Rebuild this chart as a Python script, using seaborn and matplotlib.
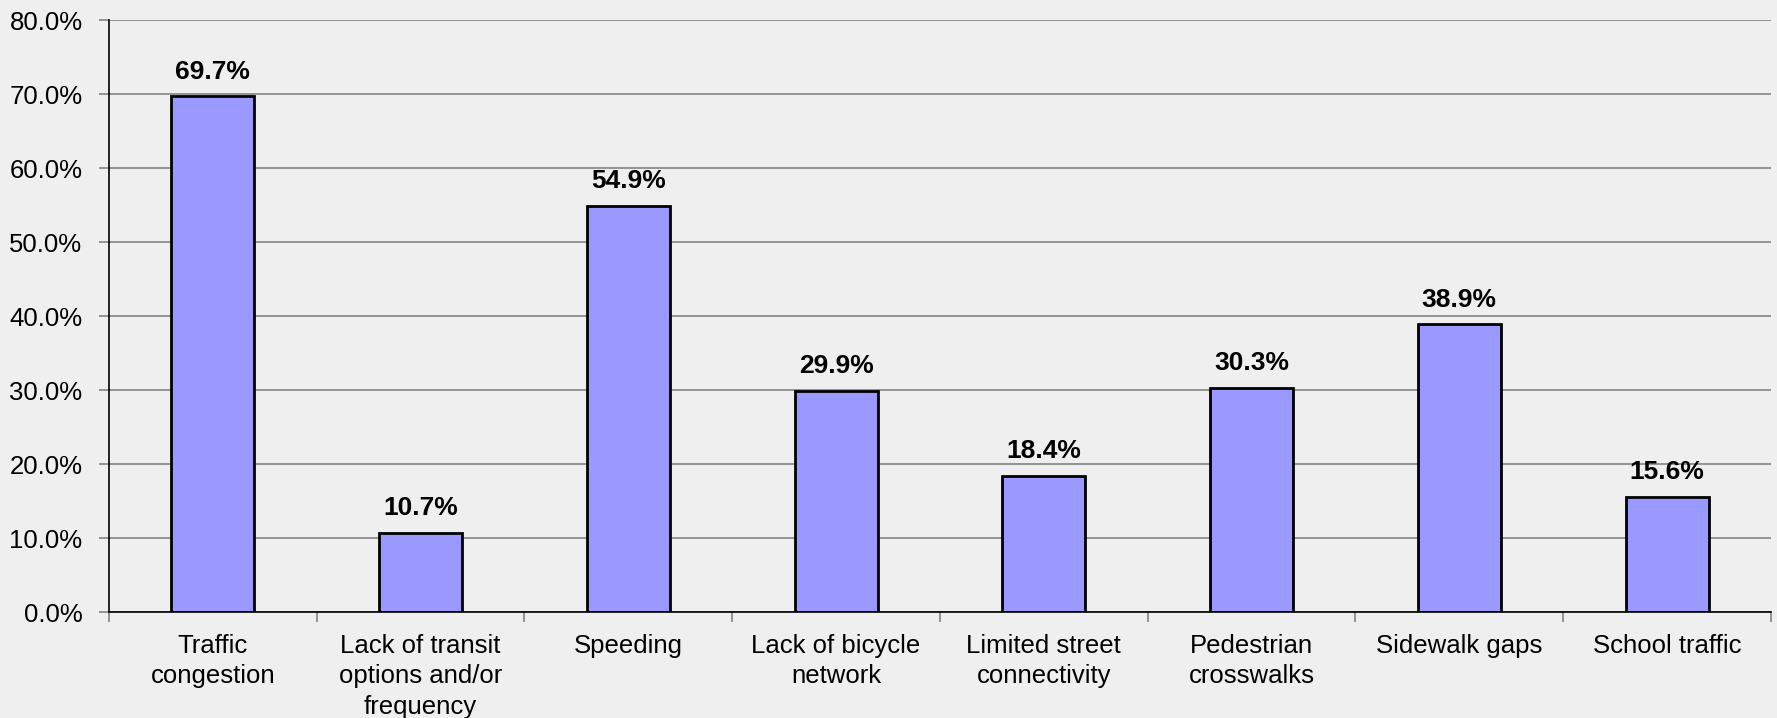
import matplotlib
matplotlib.use("Agg")
import matplotlib.pyplot as plt
import seaborn as sns
import pandas as pd
from matplotlib.ticker import FixedLocator, PercentFormatter

categories = [
    "Traffic\ncongestion",
    "Lack of transit\noptions and/or\nfrequency",
    "Speeding",
    "Lack of bicycle\nnetwork",
    "Limited street\nconnectivity",
    "Pedestrian\ncrosswalks",
    "Sidewalk gaps",
    "School traffic",
]
values = [69.7, 10.7, 54.9, 29.9, 18.4, 30.3, 38.9, 15.6]
value_labels = ["69.7%", "10.7%", "54.9%", "29.9%", "18.4%", "30.3%", "38.9%", "15.6%"]
y_ticks = [0, 10, 20, 30, 40, 50, 60, 70, 80]

bg = "#EFEFEF"
sns.set_style("white")
plt.rcParams["font.family"] = ["Liberation Sans", "DejaVu Sans"]
plt.rcParams["text.color"] = "black"
plt.rcParams["xtick.labelcolor"] = "black"
plt.rcParams["ytick.labelcolor"] = "black"

df = pd.DataFrame({"category": categories, "value": values})

fig = plt.figure(figsize=(17.77, 7.18), dpi=100, facecolor=bg)
ax = fig.add_axes([0.0613, 0.1476, 0.9966 - 0.0613, 0.9721 - 0.1476])
ax.set_facecolor(bg)

sns.barplot(data=df, x="category", y="value", color="#9999FF", width=0.4,
            edgecolor="black", linewidth=2.0, saturation=1, ax=ax)

ax.set_ylim(0, 80)
ax.set_xlim(-0.5, len(categories) - 0.5)
ax.set_yticks(y_ticks)
ax.yaxis.set_major_formatter(PercentFormatter(decimals=1))
ax.grid(axis="y", color="#7a7a7a", linewidth=1.1)
ax.set_axisbelow(True)

for s in ["top", "right"]:
    ax.spines[s].set_visible(False)
for s in ["left", "bottom"]:
    ax.spines[s].set_color("black")
    ax.spines[s].set_linewidth(1.2)

ax.tick_params(axis="y", left=True, length=7, width=1.1, color="#7a7a7a",
               labelsize=18.5, pad=12, labelcolor="black")
ax.tick_params(axis="x", which="major", bottom=False, labelsize=18.5, pad=12,
               labelcolor="black")
ax.xaxis.set_minor_locator(FixedLocator([i - 0.5 for i in range(len(categories) + 1)]))
ax.tick_params(axis="x", which="minor", bottom=True, length=7, width=1.1, color="#7a7a7a")
for lbl in ax.get_xticklabels():
    lbl.set_linespacing(1.35)

ax.bar_label(ax.containers[0], labels=value_labels, padding=9,
             fontsize=19, fontweight="bold", color="black")
ax.set_xlabel("")
ax.set_ylabel("")

fig.savefig("out.png", dpi=100, facecolor=bg)
